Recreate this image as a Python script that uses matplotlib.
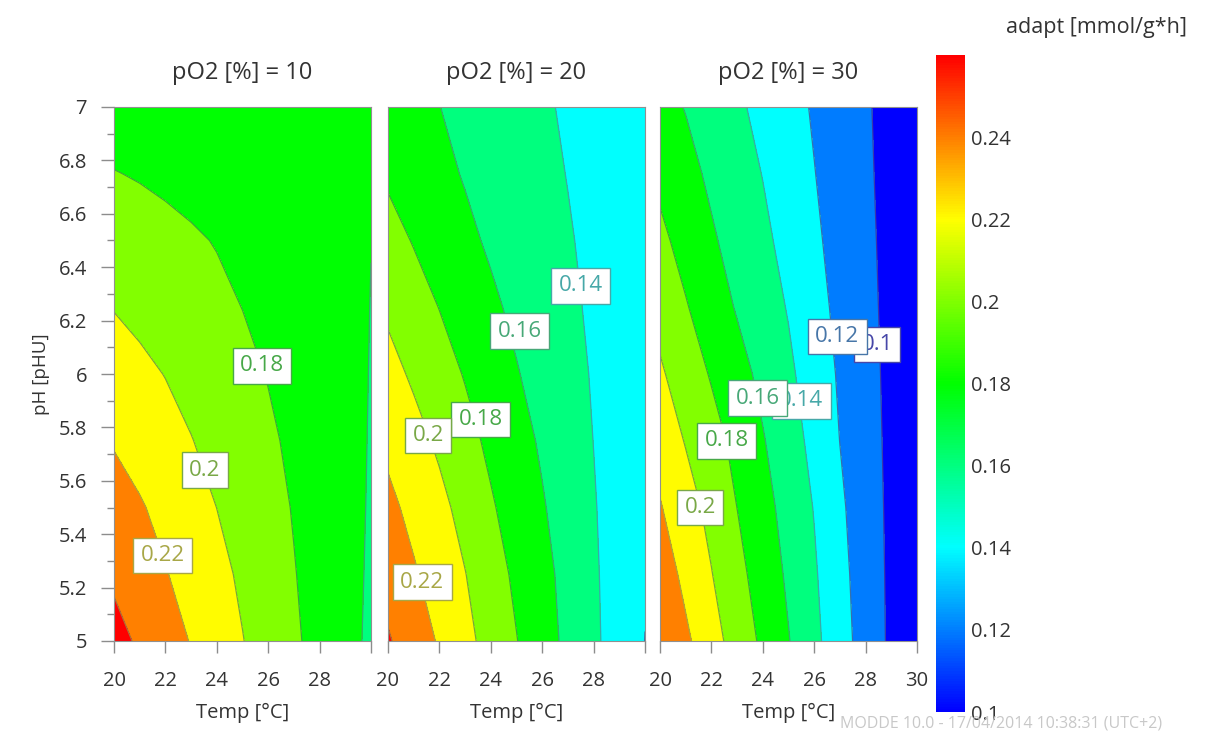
import matplotlib
matplotlib.use("Agg")
import matplotlib.pyplot as plt
import numpy as np
from matplotlib.colors import LinearSegmentedColormap, Normalize, to_rgb
from matplotlib.cm import ScalarMappable

plt.rcParams['font.family'] = ['Open Sans', 'DejaVu Sans']

# grid the response surface was read on
temps = [20, 21, 22, 23, 24, 25, 26, 27, 28, 29, 30]
ph_values = [5.0, 5.25, 5.5, 5.75, 6.0, 6.25, 6.5, 6.75, 7.0]
po2_values = [10, 20, 30]

# adapt [mmol/g*h], one row per pH value, one column per temp
adapt_po2_10 = [
    [0.2464, 0.2373, 0.2282, 0.2191, 0.2098, 0.2006, 0.1916, 0.1827, 0.1740, 0.1655, 0.1570],
    [0.2368, 0.2290, 0.2210, 0.2131, 0.2052, 0.1971, 0.1890, 0.1808, 0.1731, 0.1655, 0.1579],
    [0.2283, 0.2218, 0.2145, 0.2073, 0.1999, 0.1930, 0.1860, 0.1790, 0.1722, 0.1654, 0.1586],
    [0.2185, 0.2125, 0.2066, 0.2006, 0.1946, 0.1887, 0.1827, 0.1768, 0.1709, 0.1650, 0.1591],
    [0.2088, 0.2042, 0.1995, 0.1944, 0.1894, 0.1843, 0.1793, 0.1743, 0.1694, 0.1644, 0.1595],
    [0.1993, 0.1954, 0.1915, 0.1876, 0.1837, 0.1798, 0.1758, 0.1718, 0.1678, 0.1638, 0.1598],
    [0.1899, 0.1873, 0.1846, 0.1820, 0.1792, 0.1760, 0.1728, 0.1696, 0.1664, 0.1632, 0.1601],
    [0.1806, 0.1788, 0.1768, 0.1747, 0.1727, 0.1707, 0.1686, 0.1666, 0.1646, 0.1625, 0.1605],
    [0.1712, 0.1702, 0.1692, 0.1682, 0.1672, 0.1662, 0.1652, 0.1642, 0.1632, 0.1622, 0.1612],
]
adapt_po2_20 = [
    [0.2419, 0.2301, 0.2181, 0.2054, 0.1929, 0.1806, 0.1681, 0.1557, 0.1433, 0.1316, 0.1198],
    [0.2327, 0.2221, 0.2114, 0.2005, 0.1883, 0.1765, 0.1656, 0.1542, 0.1424, 0.1317, 0.1212],
    [0.2248, 0.2146, 0.2049, 0.1940, 0.1821, 0.1717, 0.1616, 0.1514, 0.1412, 0.1318, 0.1224],
    [0.2156, 0.2064, 0.1968, 0.1862, 0.1761, 0.1668, 0.1576, 0.1487, 0.1398, 0.1316, 0.1234],
    [0.2063, 0.1972, 0.1880, 0.1788, 0.1700, 0.1611, 0.1534, 0.1460, 0.1386, 0.1314, 0.1243],
    [0.1969, 0.1882, 0.1796, 0.1714, 0.1633, 0.1562, 0.1498, 0.1435, 0.1372, 0.1311, 0.1250],
    [0.1871, 0.1789, 0.1714, 0.1640, 0.1575, 0.1522, 0.1468, 0.1414, 0.1361, 0.1308, 0.1255],
    [0.1772, 0.1709, 0.1646, 0.1587, 0.1539, 0.1491, 0.1443, 0.1395, 0.1350, 0.1304, 0.1258],
    [0.1672, 0.1637, 0.1602, 0.1557, 0.1512, 0.1467, 0.1422, 0.1379, 0.1340, 0.1300, 0.1260],
]
adapt_po2_30 = [
    [0.2392, 0.2236, 0.2076, 0.1918, 0.1764, 0.1609, 0.1448, 0.1280, 0.1118, 0.0965, 0.0810],
    [0.2309, 0.2151, 0.2007, 0.1857, 0.1713, 0.1570, 0.1422, 0.1258, 0.1106, 0.0963, 0.0818],
    [0.2213, 0.2081, 0.1945, 0.1799, 0.1666, 0.1531, 0.1392, 0.1232, 0.1093, 0.0960, 0.0827],
    [0.2121, 0.1989, 0.1871, 0.1747, 0.1613, 0.1484, 0.1347, 0.1198, 0.1077, 0.0957, 0.0837],
    [0.2026, 0.1904, 0.1784, 0.1669, 0.1553, 0.1435, 0.1307, 0.1178, 0.1065, 0.0953, 0.0841],
    [0.1936, 0.1814, 0.1698, 0.1585, 0.1488, 0.1388, 0.1267, 0.1154, 0.1051, 0.0949, 0.0846],
    [0.1844, 0.1733, 0.1624, 0.1530, 0.1440, 0.1341, 0.1232, 0.1134, 0.1040, 0.0945, 0.0851],
    [0.1756, 0.1659, 0.1566, 0.1481, 0.1395, 0.1300, 0.1205, 0.1117, 0.1029, 0.0941, 0.0853],
    [0.1665, 0.1592, 0.1511, 0.1431, 0.1348, 0.1265, 0.1182, 0.1101, 0.1020, 0.0939, 0.0858],
]

contour_levels = [0.10, 0.12, 0.14, 0.16, 0.18, 0.20, 0.22, 0.24]
colorbar_ticks = [0.1, 0.12, 0.14, 0.16, 0.18, 0.2, 0.22, 0.24]

# where the software put the contour labels: (level, temp, pH)
labels_po2_10 = [(0.18, 25.76, 6.03), (0.2, 23.54, 5.64), (0.22, 21.9, 5.32)]
labels_po2_20 = [(0.14, 27.5, 6.33), (0.16, 25.12, 6.16), (0.18, 23.6, 5.83),
                 (0.2, 21.57, 5.77), (0.22, 21.33, 5.22)]
labels_po2_30 = [(0.1, 28.45, 6.11), (0.12, 26.9, 6.14), (0.14, 25.5, 5.9),
                 (0.16, 23.8, 5.91), (0.18, 22.6, 5.75), (0.2, 21.56, 5.5)]

panels = [
    (po2_values[0], adapt_po2_10, labels_po2_10),
    (po2_values[1], adapt_po2_20, labels_po2_20),
    (po2_values[2], adapt_po2_30, labels_po2_30),
]

# blue - cyan - green - yellow - red, 0.1 to 0.26
cmap = LinearSegmentedColormap.from_list(
    "modde", ["#0000ff", "#00ffff", "#00ff00", "#ffff00", "#ff0000"])
norm = Normalize(vmin=0.1, vmax=0.26)

# each band is painted with the colour of its upper level
fill_levels = [0.0] + contour_levels + [0.3]
band_colors = [cmap(norm(min(hi, 0.26))) for hi in fill_levels[1:]]


def muted(level, amount, grey=0.4):
    c = np.array(to_rgb(cmap(norm(level))))
    return tuple(c * (1 - amount) + grey * amount)


line_colors = [muted(lv, 0.55) for lv in contour_levels]

TXT = "#333333"
TICK = "#8c8c8c"

fig = plt.figure(figsize=(12.1, 7.33), dpi=100)

W, H = 1210.0, 733.0
panel_left = [114, 388, 660]
for i, (po2, adapt, labels) in enumerate(panels):
    ax = fig.add_axes([panel_left[i] / W, 1 - 641 / H, 257 / W, 534 / H])
    Z = np.array(adapt)
    ax.contourf(temps, ph_values, Z, levels=fill_levels, colors=band_colors)
    ax.contour(temps, ph_values, Z, levels=contour_levels, colors=line_colors,
               linewidths=0.9)

    # labels sorted so the higher level sits on top
    for k, (level, t, p) in enumerate(sorted(labels)):
        col = muted(level, 0.62, 0.45)
        ax.text(t, p, f"{level:g}", color=col, fontsize=16, ha="center", va="center",
                zorder=10 + k,
                bbox=dict(boxstyle="square,pad=0.33", fc="white", ec=col, lw=1.0))

    ax.set_xlim(20, 30)
    ax.set_ylim(5, 7)
    ax.set_title(f"pO2 [%] = {po2}", fontsize=17, color=TXT, pad=20)
    ax.set_xlabel("Temp [°C]", fontsize=14.5, color=TXT, labelpad=9)
    ax.set_xticks([20, 22, 24, 26, 28, 30])
    if i < 2:
        ax.set_xticklabels(["20", "22", "24", "26", "28", ""])
    else:
        ax.set_xticklabels(["20", "22", "24", "26", "28", "30"])
    ax.tick_params(axis="x", length=8.5, width=1, color=TICK, labelsize=14.5,
                   labelcolor=TXT, pad=13)
    if i == 0:
        yt = np.round(np.arange(5, 7.01, 0.2), 1)
        ax.set_yticks(yt)
        ax.set_yticklabels([f"{v:g}" for v in yt])
        ax.set_yticks(np.arange(5.1, 7, 0.2), minor=True)
        ax.tick_params(axis="y", which="major", length=9.5, width=1, color=TICK,
                       labelsize=14.5, labelcolor=TXT, pad=10)
        ax.tick_params(axis="y", which="minor", length=5, width=1, color=TICK)
        ax.set_ylabel("pH [pHU]", fontsize=13.5, color=TXT, labelpad=6)
    else:
        ax.set_yticks([])
    for s in ax.spines.values():
        s.set_color("#909090")
        s.set_linewidth(0.8)

# colour bar
cax = fig.add_axes([936 / W, 1 - 712 / H, 29 / W, 657 / H])
cb = fig.colorbar(ScalarMappable(norm=norm, cmap=cmap), cax=cax, ticks=colorbar_ticks)
cb.outline.set_visible(False)
cb.ax.set_yticklabels([f"{v:g}" for v in colorbar_ticks])
cb.ax.tick_params(length=0, labelsize=14.5, labelcolor=TXT, pad=4)
fig.text(1187 / W, 1 - 28 / H, "adapt [mmol/g*h]", ha="right", va="center",
         fontsize=15.5, color=TXT)

# software stamp in the bottom right corner
fig.text(840 / W, 1 / H, "MODDE 10.0 - 17/04/2014 10:38:31 (UTC+2)",
         ha="left", va="bottom", fontsize=11.5, color="#c8c8c8", zorder=0)

fig.savefig("out.png", dpi=100)
